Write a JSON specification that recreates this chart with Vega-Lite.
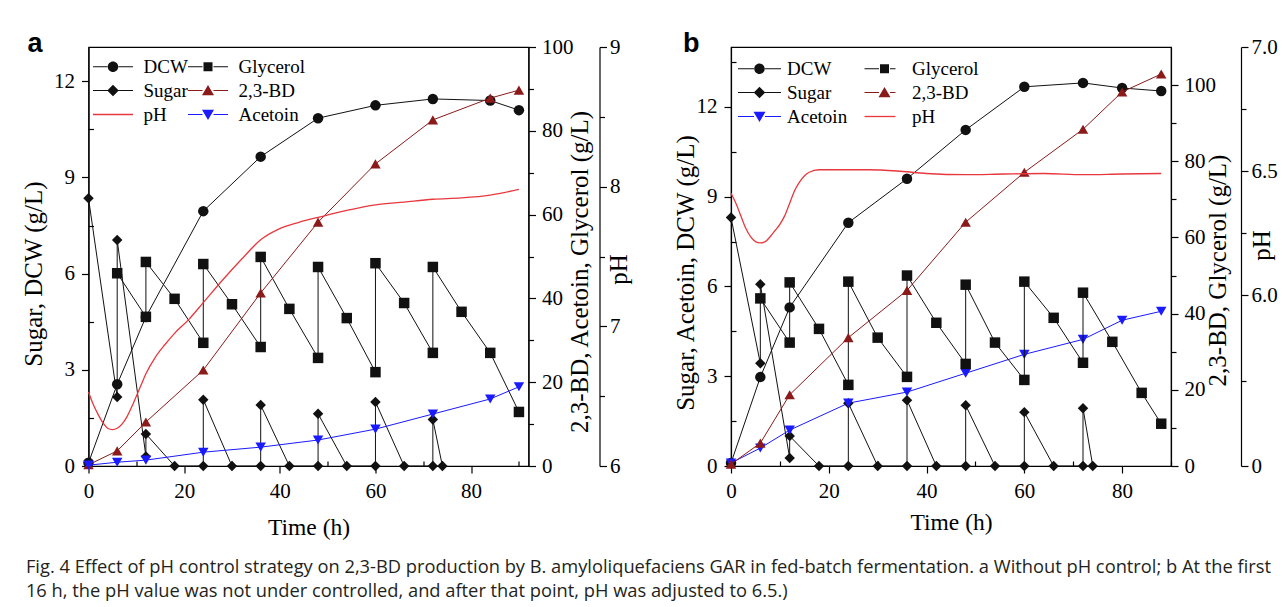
{
"$schema": "https://vega.github.io/schema/vega-lite/v6.json",
"background": "white",
"padding": {"left": 19.5, "top": 29, "right": 0, "bottom": 5},
"datasets": {
"a": [
{"s":"DCW","t":0,"v":0.1,"i":0},{"s":"DCW","t":6,"v":2.55,"i":1},{"s":"DCW","t":12,"v":4.65,"i":2},{"s":"DCW","t":24,"v":7.95,"i":3},{"s":"DCW","t":36,"v":9.65,"i":4},{"s":"DCW","t":48,"v":10.85,"i":5},{"s":"DCW","t":60,"v":11.25,"i":6},{"s":"DCW","t":72,"v":11.45,"i":7},{"s":"DCW","t":84,"v":11.4,"i":8},{"s":"DCW","t":90,"v":11.1,"i":9},
{"s":"Sugar","t":0,"v":8.35,"i":0},{"s":"Sugar","t":6,"v":2.15,"i":1},{"s":"Sugar","t":6,"v":7.05,"i":2},{"s":"Sugar","t":12,"v":0.3,"i":3},{"s":"Sugar","t":12,"v":1.0,"i":4},{"s":"Sugar","t":18,"v":0,"i":5},{"s":"Sugar","t":24,"v":0,"i":6},{"s":"Sugar","t":24,"v":2.07,"i":7},{"s":"Sugar","t":30,"v":0,"i":8},{"s":"Sugar","t":36,"v":0,"i":9},{"s":"Sugar","t":36,"v":1.9,"i":10},{"s":"Sugar","t":42,"v":0,"i":11},{"s":"Sugar","t":48,"v":0,"i":12},{"s":"Sugar","t":48,"v":1.63,"i":13},{"s":"Sugar","t":54,"v":0,"i":14},{"s":"Sugar","t":60,"v":0,"i":15},{"s":"Sugar","t":60,"v":2.0,"i":16},{"s":"Sugar","t":66,"v":0,"i":17},{"s":"Sugar","t":72,"v":0,"i":18},{"s":"Sugar","t":72,"v":1.45,"i":19},{"s":"Sugar","t":74,"v":0,"i":20},
{"s":"Glycerol","t":6,"v":46,"i":0},{"s":"Glycerol","t":12,"v":35.6,"i":1},{"s":"Glycerol","t":12,"v":48.7,"i":2},{"s":"Glycerol","t":18,"v":39.9,"i":3},{"s":"Glycerol","t":24,"v":29.4,"i":4},{"s":"Glycerol","t":24,"v":48.2,"i":5},{"s":"Glycerol","t":30,"v":38.6,"i":6},{"s":"Glycerol","t":36,"v":28.4,"i":7},{"s":"Glycerol","t":36,"v":49.9,"i":8},{"s":"Glycerol","t":42,"v":37.5,"i":9},{"s":"Glycerol","t":48,"v":25.8,"i":10},{"s":"Glycerol","t":48,"v":47.5,"i":11},{"s":"Glycerol","t":54,"v":35.3,"i":12},{"s":"Glycerol","t":60,"v":22.4,"i":13},{"s":"Glycerol","t":60,"v":48.4,"i":14},{"s":"Glycerol","t":66,"v":38.9,"i":15},{"s":"Glycerol","t":72,"v":27.0,"i":16},{"s":"Glycerol","t":72,"v":47.5,"i":17},{"s":"Glycerol","t":78,"v":36.8,"i":18},{"s":"Glycerol","t":84,"v":27.0,"i":19},{"s":"Glycerol","t":90,"v":12.9,"i":20},
{"s":"2,3-BD","t":0,"v":0.3,"i":0},{"s":"2,3-BD","t":6,"v":3.6,"i":1},{"s":"2,3-BD","t":12,"v":10.5,"i":2},{"s":"2,3-BD","t":24,"v":22.9,"i":3},{"s":"2,3-BD","t":36,"v":41.3,"i":4},{"s":"2,3-BD","t":48,"v":58.2,"i":5},{"s":"2,3-BD","t":60,"v":72.1,"i":6},{"s":"2,3-BD","t":72,"v":82.6,"i":7},{"s":"2,3-BD","t":84,"v":87.8,"i":8},{"s":"2,3-BD","t":90,"v":89.7,"i":9},
{"s":"Acetoin","t":0,"v":0.2,"i":0},{"s":"Acetoin","t":6,"v":0.9,"i":1},{"s":"Acetoin","t":12,"v":1.4,"i":2},{"s":"Acetoin","t":24,"v":3.3,"i":3},{"s":"Acetoin","t":36,"v":4.5,"i":4},{"s":"Acetoin","t":48,"v":6.2,"i":5},{"s":"Acetoin","t":60,"v":8.8,"i":6},{"s":"Acetoin","t":72,"v":12.4,"i":7},{"s":"Acetoin","t":84,"v":16.0,"i":8},{"s":"Acetoin","t":90,"v":18.9,"i":9},
{"s":"pH","t":0,"v":6.53,"i":0},{"s":"pH","t":1,"v":6.44,"i":1},{"s":"pH","t":2,"v":6.37,"i":2},{"s":"pH","t":3,"v":6.31,"i":3},{"s":"pH","t":4,"v":6.27,"i":4},{"s":"pH","t":5,"v":6.26,"i":5},{"s":"pH","t":6,"v":6.27,"i":6},{"s":"pH","t":7,"v":6.3,"i":7},{"s":"pH","t":8,"v":6.35,"i":8},{"s":"pH","t":9,"v":6.42,"i":9},{"s":"pH","t":10,"v":6.5,"i":10},{"s":"pH","t":11,"v":6.58,"i":11},{"s":"pH","t":12,"v":6.66,"i":12},{"s":"pH","t":14,"v":6.78,"i":13},{"s":"pH","t":16,"v":6.87,"i":14},{"s":"pH","t":18,"v":6.95,"i":15},{"s":"pH","t":21,"v":7.05,"i":16},{"s":"pH","t":24,"v":7.17,"i":17},{"s":"pH","t":28,"v":7.33,"i":18},{"s":"pH","t":32,"v":7.48,"i":19},{"s":"pH","t":36,"v":7.62,"i":20},{"s":"pH","t":40,"v":7.7,"i":21},{"s":"pH","t":44,"v":7.745,"i":22},{"s":"pH","t":48,"v":7.78,"i":23},{"s":"pH","t":54,"v":7.83,"i":24},{"s":"pH","t":60,"v":7.87,"i":25},{"s":"pH","t":66,"v":7.89,"i":26},{"s":"pH","t":72,"v":7.91,"i":27},{"s":"pH","t":78,"v":7.92,"i":28},{"s":"pH","t":84,"v":7.94,"i":29},{"s":"pH","t":90,"v":7.98,"i":30}
],
"b": [
{"s":"DCW","t":0,"v":0.1,"i":0},{"s":"DCW","t":6,"v":2.97,"i":1},{"s":"DCW","t":12,"v":5.3,"i":2},{"s":"DCW","t":24,"v":8.13,"i":3},{"s":"DCW","t":36,"v":9.6,"i":4},{"s":"DCW","t":48,"v":11.23,"i":5},{"s":"DCW","t":60,"v":12.67,"i":6},{"s":"DCW","t":72,"v":12.8,"i":7},{"s":"DCW","t":80,"v":12.63,"i":8},{"s":"DCW","t":88,"v":12.53,"i":9},
{"s":"Sugar","t":0,"v":8.3,"i":0},{"s":"Sugar","t":6,"v":3.43,"i":1},{"s":"Sugar","t":6,"v":6.07,"i":2},{"s":"Sugar","t":12,"v":0.27,"i":3},{"s":"Sugar","t":12,"v":1.0,"i":4},{"s":"Sugar","t":18,"v":0,"i":5},{"s":"Sugar","t":24,"v":0,"i":6},{"s":"Sugar","t":24,"v":2.1,"i":7},{"s":"Sugar","t":30,"v":0,"i":8},{"s":"Sugar","t":36,"v":0,"i":9},{"s":"Sugar","t":36,"v":2.2,"i":10},{"s":"Sugar","t":42,"v":0,"i":11},{"s":"Sugar","t":48,"v":0,"i":12},{"s":"Sugar","t":48,"v":2.03,"i":13},{"s":"Sugar","t":54,"v":0,"i":14},{"s":"Sugar","t":60,"v":0,"i":15},{"s":"Sugar","t":60,"v":1.8,"i":16},{"s":"Sugar","t":66,"v":0,"i":17},{"s":"Sugar","t":72,"v":0,"i":18},{"s":"Sugar","t":72,"v":1.93,"i":19},{"s":"Sugar","t":74,"v":0,"i":20},
{"s":"Acetoin","t":0,"v":0.1,"i":0},{"s":"Acetoin","t":6,"v":0.6,"i":1},{"s":"Acetoin","t":12,"v":1.2,"i":2},{"s":"Acetoin","t":24,"v":2.1,"i":3},{"s":"Acetoin","t":36,"v":2.47,"i":4},{"s":"Acetoin","t":48,"v":3.1,"i":5},{"s":"Acetoin","t":60,"v":3.73,"i":6},{"s":"Acetoin","t":72,"v":4.23,"i":7},{"s":"Acetoin","t":80,"v":4.87,"i":8},{"s":"Acetoin","t":88,"v":5.17,"i":9},
{"s":"Glycerol","t":6,"v":44.0,"i":0},{"s":"Glycerol","t":12,"v":32.4,"i":1},{"s":"Glycerol","t":12,"v":48.2,"i":2},{"s":"Glycerol","t":18,"v":36.0,"i":3},{"s":"Glycerol","t":24,"v":21.3,"i":4},{"s":"Glycerol","t":24,"v":48.4,"i":5},{"s":"Glycerol","t":30,"v":33.7,"i":6},{"s":"Glycerol","t":36,"v":23.4,"i":7},{"s":"Glycerol","t":36,"v":50.0,"i":8},{"s":"Glycerol","t":42,"v":37.6,"i":9},{"s":"Glycerol","t":48,"v":26.8,"i":10},{"s":"Glycerol","t":48,"v":47.6,"i":11},{"s":"Glycerol","t":54,"v":32.4,"i":12},{"s":"Glycerol","t":60,"v":22.6,"i":13},{"s":"Glycerol","t":60,"v":48.4,"i":14},{"s":"Glycerol","t":66,"v":38.9,"i":15},{"s":"Glycerol","t":72,"v":27.1,"i":16},{"s":"Glycerol","t":72,"v":45.5,"i":17},{"s":"Glycerol","t":78,"v":32.6,"i":18},{"s":"Glycerol","t":84,"v":19.2,"i":19},{"s":"Glycerol","t":88,"v":11.1,"i":20},
{"s":"2,3-BD","t":0,"v":0.5,"i":0},{"s":"2,3-BD","t":6,"v":6.0,"i":1},{"s":"2,3-BD","t":12,"v":18.7,"i":2},{"s":"2,3-BD","t":24,"v":33.7,"i":3},{"s":"2,3-BD","t":36,"v":46.1,"i":4},{"s":"2,3-BD","t":48,"v":64.0,"i":5},{"s":"2,3-BD","t":60,"v":77.1,"i":6},{"s":"2,3-BD","t":72,"v":88.4,"i":7},{"s":"2,3-BD","t":80,"v":98.2,"i":8},{"s":"2,3-BD","t":88,"v":102.9,"i":9},
{"s":"pH","t":0,"v":6.41,"i":0},{"s":"pH","t":1,"v":6.37,"i":1},{"s":"pH","t":2,"v":6.32,"i":2},{"s":"pH","t":3,"v":6.27,"i":3},{"s":"pH","t":4,"v":6.235,"i":4},{"s":"pH","t":5,"v":6.215,"i":5},{"s":"pH","t":6,"v":6.21,"i":6},{"s":"pH","t":7,"v":6.215,"i":7},{"s":"pH","t":8,"v":6.235,"i":8},{"s":"pH","t":9,"v":6.26,"i":9},{"s":"pH","t":10,"v":6.285,"i":10},{"s":"pH","t":11,"v":6.32,"i":11},{"s":"pH","t":12,"v":6.37,"i":12},{"s":"pH","t":13,"v":6.42,"i":13},{"s":"pH","t":14,"v":6.455,"i":14},{"s":"pH","t":15,"v":6.48,"i":15},{"s":"pH","t":16,"v":6.495,"i":16},{"s":"pH","t":18,"v":6.505,"i":17},{"s":"pH","t":22,"v":6.505,"i":18},{"s":"pH","t":28,"v":6.505,"i":19},{"s":"pH","t":34,"v":6.5,"i":20},{"s":"pH","t":40,"v":6.49,"i":21},{"s":"pH","t":48,"v":6.485,"i":22},{"s":"pH","t":56,"v":6.488,"i":23},{"s":"pH","t":64,"v":6.49,"i":24},{"s":"pH","t":72,"v":6.485,"i":25},{"s":"pH","t":80,"v":6.488,"i":26},{"s":"pH","t":88,"v":6.49,"i":27}
]
},
"title": {"text": ["Fig. 4  Effect of pH control strategy on 2,3-BD production by B. amyloliquefaciens GAR in fed-batch fermentation. a Without pH control; b At the first", "16 h, the pH value was not under controlled, and after that point, pH was adjusted to 6.5.)"], "orient": "bottom", "anchor": "start", "frame": "bounds", "offset": 20, "dx": 5.5, "font": "Open Sans", "fontSize": 18.3, "fontWeight": "normal", "color": "#231f20", "lineHeight": 24},
"spacing": 39.5,
"resolve": {"scale": {"color": "independent"}, "legend": {"color": "independent"}},
"hconcat": [
{
"width": 440, "height": 419,
"data": {"name": "a"},
"title": {"text": "a", "anchor": "start", "frame": "bounds", "offset": -22, "dx": 6.5, "font": "Liberation Sans", "fontSize": 27, "fontWeight": "bold", "color": "#000000"},
"resolve": {"scale": {"y": "independent"}, "axis": {"x": "independent", "y": "independent"}},
"layer": [
{
"transform": [{"filter": "datum.s === 'DCW' || datum.s === 'Sugar'"}],
"resolve": {"axis": {"x": "independent", "y": "independent"}},
"layer": [
{"mark": {"type": "line", "strokeWidth": 1},
"encoding": {
"x": {"field": "t", "type": "quantitative", "scale": {"domain": [0, 92], "nice": false, "zero": false}, "axis": {"orient": "bottom", "values": [0, 20, 40, 60, 80], "tickSize": 7, "labelPadding": 7, "title": "Time (h)", "titleFontSize": 23.5, "titlePadding": 14}},
"y": {"field": "v", "type": "quantitative", "scale": {"domain": [0, 13.07], "nice": false, "zero": false}, "axis": {"orient": "left", "values": [0, 3, 6, 9, 12], "tickSize": 7, "labelPadding": 7, "title": "Sugar, DCW (g/L)", "titlePadding": 7.5, "titleY": 226.5}},
"color": {"field": "s", "type": "nominal", "scale": {"domain": ["DCW", "Sugar", "pH", "Glycerol", "2,3-BD", "Acetoin"], "range": ["#111111", "#111111", "#e8383d", "#111111", "#8b1a1a", "#1a1aff"]},
 "legend": {"orient": "none", "legendX": 5, "legendY": 10, "direction": "vertical", "columns": 2, "gridAlign": "each", "title": null, "padding": 0, "rowPadding": 4, "columnPadding": -8, "symbolSize": 100, "symbolOffset": 10, "labelOffset": 21, "symbolStrokeWidth": 0, "labelFont": "Liberation Serif", "labelFontSize": 19, "labelColor": "#000000",
  "encode": {"symbols": {"update": {
   "shape": {"signal": "datum.value === 'DCW' ? 'M-4,-0.12H-1.1V0.12H-4Z M1.1,-0.12H4V0.12H1.1Z M-1.05,0A1.05,1.05,0,1,1,1.05,0A1.05,1.05,0,1,1,-1.05,0Z' : datum.value === 'Sugar' ? 'M-4,-0.12H-1.1V0.12H-4Z M1.1,-0.12H4V0.12H1.1Z M0,-1.15L1.15,0L0,1.15L-1.15,0Z' : datum.value === 'Glycerol' ? 'M-4,-0.12H-1.1V0.12H-4Z M1.1,-0.12H4V0.12H1.1Z M-0.9,-0.9H0.9V0.9H-0.9Z' : datum.value === '2,3-BD' ? 'M-4,-0.12H-1.1V0.12H-4Z M1.1,-0.12H4V0.12H1.1Z M0,-1.1L1.2,0.95L-1.2,0.95Z' : datum.value === 'Acetoin' ? 'M-4,-0.12H-1.1V0.12H-4Z M1.1,-0.12H4V0.12H1.1Z M-1.2,-0.95L1.2,-0.95L0,1.1Z' : 'M-4,-0.13H4V0.13H-4Z'"},
   "fill": {"signal": "datum.value === '2,3-BD' ? '#8b1a1a' : datum.value === 'Acetoin' ? '#1a1aff' : datum.value === 'pH' ? '#e8383d' : '#111111'"},
   "stroke": {"value": "transparent"},
   "strokeWidth": {"value": 0},
   "opacity": {"value": 1}
  }}}}},
"order": {"field": "i", "type": "quantitative"}
}},
{"mark": {"type": "point", "filled": true, "size": 110, "opacity": 1},
"encoding": {
"x": {"field": "t", "type": "quantitative", "scale": {"domain": [0, 92], "nice": false, "zero": false}, "axis": {"orient": "bottom", "values": [10, 30, 50, 70, 90], "tickSize": -5, "labels": false, "domain": false, "title": null}},
"y": {"field": "v", "type": "quantitative", "scale": {"domain": [0, 13.07], "nice": false, "zero": false}, "axis": {"orient": "left", "values": [1.5, 4.5, 7.5, 10.5], "tickSize": -5, "labels": false, "domain": false, "title": null}},
"color": {"field": "s", "type": "nominal", "scale": {"domain": ["DCW", "Sugar", "pH", "Glycerol", "2,3-BD", "Acetoin"], "range": ["#111111", "#111111", "#e8383d", "#111111", "#8b1a1a", "#1a1aff"]}, "legend": null},
"shape": {"field": "s", "type": "nominal", "scale": {"domain": ["DCW", "Sugar", "Glycerol", "2,3-BD", "Acetoin", "pH"], "range": ["circle", "diamond", "square", "triangle-up", "triangle-down", "circle"]}, "legend": null}
}}
]
},
{
"transform": [{"filter": "datum.s === 'Glycerol' || datum.s === '2,3-BD' || datum.s === 'Acetoin'"}],
"resolve": {"axis": {"x": "independent", "y": "independent"}},
"layer": [
{"mark": {"type": "line", "strokeWidth": 1},
"encoding": {
"x": {"field": "t", "type": "quantitative", "scale": {"domain": [0, 92], "nice": false, "zero": false}, "axis": null},
"y": {"field": "v", "type": "quantitative", "scale": {"domain": [0, 100], "nice": false, "zero": false}, "axis": {"orient": "right", "values": [0, 20, 40, 60, 80, 100], "tickSize": 7, "labelPadding": 6, "title": "2,3-BD, Acetoin, Glycerol (g/L)", "titleAngle": 270, "titlePadding": 19, "titleY": 224.5}},
"color": {"field": "s", "type": "nominal", "scale": {"domain": ["DCW", "Sugar", "pH", "Glycerol", "2,3-BD", "Acetoin"], "range": ["#111111", "#111111", "#e8383d", "#111111", "#8b1a1a", "#1a1aff"]}, "legend": null},
"order": {"field": "i", "type": "quantitative"}
}},
{"mark": {"type": "point", "filled": true, "size": 110, "opacity": 1},
"encoding": {
"x": {"field": "t", "type": "quantitative", "scale": {"domain": [0, 92], "nice": false, "zero": false}, "axis": null},
"y": {"field": "v", "type": "quantitative", "scale": {"domain": [0, 100], "nice": false, "zero": false}, "axis": {"orient": "right", "values": [10, 30, 50, 70, 90], "tickSize": 5, "labels": false, "domain": false, "title": null}},
"color": {"field": "s", "type": "nominal", "scale": {"domain": ["DCW", "Sugar", "pH", "Glycerol", "2,3-BD", "Acetoin"], "range": ["#111111", "#111111", "#e8383d", "#111111", "#8b1a1a", "#1a1aff"]}, "legend": null},
"shape": {"field": "s", "type": "nominal", "scale": {"domain": ["DCW", "Sugar", "Glycerol", "2,3-BD", "Acetoin", "pH"], "range": ["circle", "diamond", "square", "triangle-up", "triangle-down", "circle"]}, "legend": null}
}}
]
},
{
"transform": [{"filter": "datum.s === 'pH'"}],
"resolve": {"axis": {"x": "independent", "y": "independent"}},
"layer": [
{"mark": {"type": "line", "strokeWidth": 1.3, "interpolate": "monotone"},
"encoding": {
"x": {"field": "t", "type": "quantitative", "scale": {"domain": [0, 92], "nice": false, "zero": false}, "axis": null},
"y": {"field": "v", "type": "quantitative", "scale": {"domain": [6, 9], "nice": false, "zero": false}, "axis": {"orient": "right", "offset": 71, "values": [6, 7, 8, 9], "tickSize": 7, "labelPadding": 3, "title": "pH", "titleAngle": 270, "titlePadding": 11, "titleY": 222}},
"color": {"field": "s", "type": "nominal", "scale": {"domain": ["DCW", "Sugar", "pH", "Glycerol", "2,3-BD", "Acetoin"], "range": ["#111111", "#111111", "#e8383d", "#111111", "#8b1a1a", "#1a1aff"]}, "legend": null},
"order": {"field": "i", "type": "quantitative"}
}},
{"mark": {"type": "point", "opacity": 0},
"encoding": {
"x": {"field": "t", "type": "quantitative", "scale": {"domain": [0, 92], "nice": false, "zero": false}, "axis": null},
"y": {"field": "v", "type": "quantitative", "scale": {"domain": [6, 9], "nice": false, "zero": false}, "axis": {"orient": "right", "offset": 71, "values": [6.5, 7.5, 8.5], "tickSize": 5, "labels": false, "domain": false, "title": null}}
}}
]
}
]
},
{
"width": 440, "height": 419,
"data": {"name": "b"},
"title": {"text": "b", "anchor": "start", "frame": "bounds", "offset": -22, "dx": 10, "font": "Liberation Sans", "fontSize": 27, "fontWeight": "bold", "color": "#000000"},
"resolve": {"scale": {"y": "independent"}, "axis": {"x": "independent", "y": "independent"}},
"layer": [
{
"transform": [{"filter": "datum.s === 'DCW' || datum.s === 'Sugar' || datum.s === 'Acetoin'"}],
"resolve": {"axis": {"x": "independent", "y": "independent"}},
"layer": [
{"mark": {"type": "line", "strokeWidth": 1},
"encoding": {
"x": {"field": "t", "type": "quantitative", "scale": {"domain": [0, 90], "nice": false, "zero": false}, "axis": {"orient": "bottom", "values": [0, 20, 40, 60, 80], "tickSize": 7, "labelPadding": 7, "title": "Time (h)", "titleFontSize": 23.5, "titlePadding": 9}},
"y": {"field": "v", "type": "quantitative", "scale": {"domain": [0, 14], "nice": false, "zero": false}, "axis": {"orient": "left", "values": [0, 3, 6, 9, 12], "tickSize": 7, "labelPadding": 7, "title": "Sugar, Acetoin, DCW (g/L)", "titlePadding": -2, "titleY": 225.5}},
"color": {"field": "s", "type": "nominal", "scale": {"domain": ["DCW", "Sugar", "Acetoin", "Glycerol", "2,3-BD", "pH"], "range": ["#111111", "#111111", "#1a1aff", "#111111", "#8b1a1a", "#e8383d"]},
 "legend": {"orient": "none", "legendX": 8, "legendY": 12, "direction": "vertical", "columns": 2, "gridAlign": "each", "title": null, "padding": 0, "rowPadding": 4, "columnPadding": 16, "symbolSize": 100, "symbolOffset": 11, "labelOffset": 18, "symbolStrokeWidth": 0, "labelFont": "Liberation Serif", "labelFontSize": 19, "labelColor": "#000000",
  "encode": {"symbols": {"update": {
   "shape": {"signal": "datum.value === 'DCW' ? 'M-4.3,-0.12H-1.1V0.12H-4.3Z M1.1,-0.12H4.3V0.12H1.1Z M-1.05,0A1.05,1.05,0,1,1,1.05,0A1.05,1.05,0,1,1,-1.05,0Z' : datum.value === 'Sugar' ? 'M-4.3,-0.12H-1.1V0.12H-4.3Z M1.1,-0.12H4.3V0.12H1.1Z M0,-1.15L1.15,0L0,1.15L-1.15,0Z' : datum.value === 'Glycerol' ? 'M-4,-0.12H-1.1V0.12H-4Z M1.1,-0.12H2.2V0.12H1.1Z M-0.9,-0.9H0.9V0.9H-0.9Z' : datum.value === '2,3-BD' ? 'M-4,-0.12H-1.1V0.12H-4Z M1.1,-0.12H2.2V0.12H1.1Z M0,-1.1L1.2,0.95L-1.2,0.95Z' : datum.value === 'Acetoin' ? 'M-4.3,-0.12H-1.1V0.12H-4.3Z M1.1,-0.12H4.3V0.12H1.1Z M-1.2,-0.95L1.2,-0.95L0,1.1Z' : 'M-4,-0.13H2.2V0.13H-4Z'"},
   "fill": {"signal": "datum.value === '2,3-BD' ? '#8b1a1a' : datum.value === 'Acetoin' ? '#1a1aff' : datum.value === 'pH' ? '#e8383d' : '#111111'"},
   "stroke": {"value": "transparent"},
   "strokeWidth": {"value": 0},
   "opacity": {"value": 1}
  }}}}},
"order": {"field": "i", "type": "quantitative"}
}},
{"mark": {"type": "point", "filled": true, "size": 110, "opacity": 1},
"encoding": {
"x": {"field": "t", "type": "quantitative", "scale": {"domain": [0, 90], "nice": false, "zero": false}, "axis": {"orient": "bottom", "values": [10, 30, 50, 70, 90], "tickSize": -5, "labels": false, "domain": false, "title": null}},
"y": {"field": "v", "type": "quantitative", "scale": {"domain": [0, 14], "nice": false, "zero": false}, "axis": {"orient": "left", "values": [1.5, 4.5, 7.5, 10.5, 13.5], "tickSize": -5, "labels": false, "domain": false, "title": null}},
"color": {"field": "s", "type": "nominal", "scale": {"domain": ["DCW", "Sugar", "Acetoin", "Glycerol", "2,3-BD", "pH"], "range": ["#111111", "#111111", "#1a1aff", "#111111", "#8b1a1a", "#e8383d"]}, "legend": null},
"shape": {"field": "s", "type": "nominal", "scale": {"domain": ["DCW", "Sugar", "Glycerol", "2,3-BD", "Acetoin", "pH"], "range": ["circle", "diamond", "square", "triangle-up", "triangle-down", "circle"]}, "legend": null}
}}
]
},
{
"transform": [{"filter": "datum.s === 'Glycerol' || datum.s === '2,3-BD'"}],
"resolve": {"axis": {"x": "independent", "y": "independent"}},
"layer": [
{"mark": {"type": "line", "strokeWidth": 1},
"encoding": {
"x": {"field": "t", "type": "quantitative", "scale": {"domain": [0, 90], "nice": false, "zero": false}, "axis": null},
"y": {"field": "v", "type": "quantitative", "scale": {"domain": [0, 110], "nice": false, "zero": false}, "axis": {"orient": "right", "values": [0, 20, 40, 60, 80, 100], "tickSize": 7, "labelPadding": 6, "title": "2,3-BD, Glycerol (g/L)", "titleAngle": 270, "titlePadding": 15, "titleY": 223}},
"color": {"field": "s", "type": "nominal", "scale": {"domain": ["DCW", "Sugar", "Acetoin", "Glycerol", "2,3-BD", "pH"], "range": ["#111111", "#111111", "#1a1aff", "#111111", "#8b1a1a", "#e8383d"]}, "legend": null},
"order": {"field": "i", "type": "quantitative"}
}},
{"mark": {"type": "point", "filled": true, "size": 110, "opacity": 1},
"encoding": {
"x": {"field": "t", "type": "quantitative", "scale": {"domain": [0, 90], "nice": false, "zero": false}, "axis": null},
"y": {"field": "v", "type": "quantitative", "scale": {"domain": [0, 110], "nice": false, "zero": false}, "axis": {"orient": "right", "values": [10, 30, 50, 70, 90], "tickSize": 5, "labels": false, "domain": false, "title": null}},
"color": {"field": "s", "type": "nominal", "scale": {"domain": ["DCW", "Sugar", "Acetoin", "Glycerol", "2,3-BD", "pH"], "range": ["#111111", "#111111", "#1a1aff", "#111111", "#8b1a1a", "#e8383d"]}, "legend": null},
"shape": {"field": "s", "type": "nominal", "scale": {"domain": ["DCW", "Sugar", "Glycerol", "2,3-BD", "Acetoin", "pH"], "range": ["circle", "diamond", "square", "triangle-up", "triangle-down", "circle"]}, "legend": null}
}}
]
},
{
"transform": [{"filter": "datum.s === 'pH'"}],
"resolve": {"axis": {"x": "independent", "y": "independent"}},
"layer": [
{"mark": {"type": "line", "strokeWidth": 1.3, "interpolate": "monotone"},
"encoding": {
"x": {"field": "t", "type": "quantitative", "scale": {"domain": [0, 90], "nice": false, "zero": false}, "axis": null},
"y": {"field": "v", "type": "quantitative", "scale": {"domain": [0, 6, 7], "range": [419, 248, 0], "nice": false, "zero": false}, "axis": {"orient": "right", "offset": 70, "values": [0, 6, 6.5, 7], "labelExpr": "datum.value === 0 ? '0' : format(datum.value, '.1f')", "tickSize": 7, "labelPadding": 3, "title": "pH", "titleAngle": 270, "titlePadding": -3, "titleY": 198}},
"color": {"field": "s", "type": "nominal", "scale": {"domain": ["DCW", "Sugar", "Acetoin", "Glycerol", "2,3-BD", "pH"], "range": ["#111111", "#111111", "#1a1aff", "#111111", "#8b1a1a", "#e8383d"]}, "legend": null},
"order": {"field": "i", "type": "quantitative"}
}},
{"mark": {"type": "point", "opacity": 0},
"encoding": {
"x": {"field": "t", "type": "quantitative", "scale": {"domain": [0, 90], "nice": false, "zero": false}, "axis": null},
"y": {"field": "v", "type": "quantitative", "scale": {"domain": [0, 6, 7], "range": [419, 248, 0], "nice": false, "zero": false}, "axis": {"orient": "right", "offset": 70, "values": [3, 6.25, 6.75], "tickSize": 5, "labels": false, "domain": false, "title": null}}
}}
]
}
]
}
],
"config": {
"view": {"stroke": "#000000", "strokeWidth": 1.2},
"axis": {"labelFont": "Liberation Serif", "labelFontSize": 21, "labelColor": "#000000", "titleFont": "Liberation Serif", "titleFontSize": 25, "titleFontWeight": "normal", "titleColor": "#000000", "domainColor": "#000000", "tickColor": "#000000", "domainWidth": 1.2, "tickWidth": 1.2, "grid": false, "labelFlush": false, "labelOverlap": false}
}
}
